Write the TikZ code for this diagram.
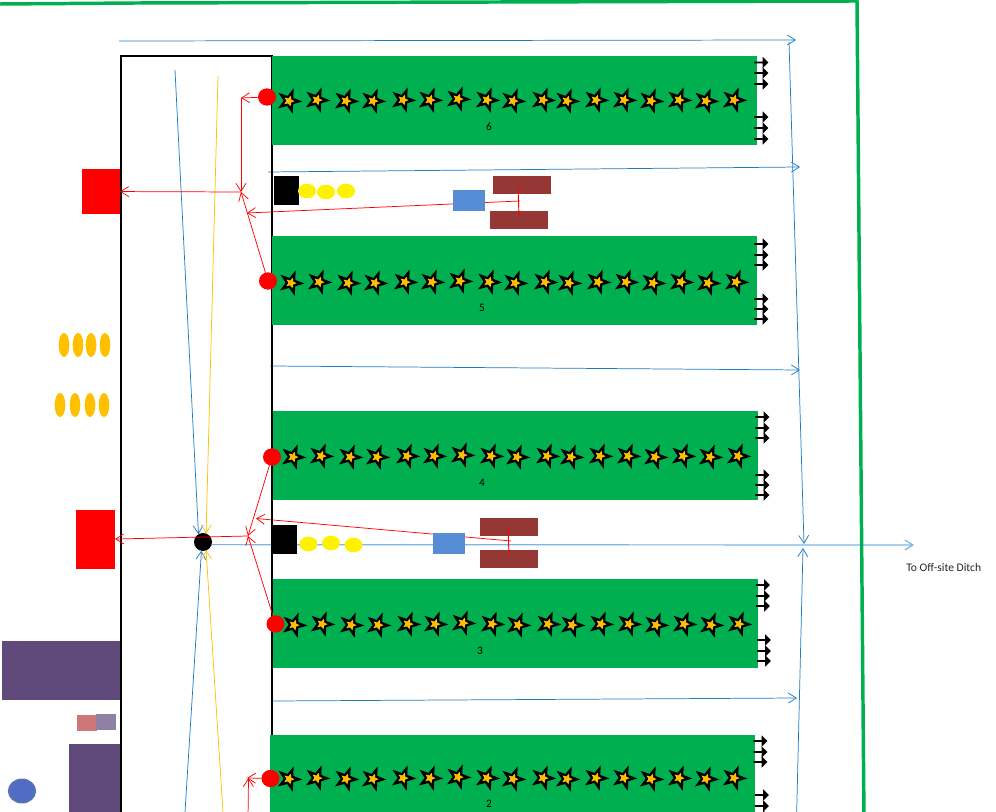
\documentclass[tikz,border=0pt]{standalone}
\usepackage{fontspec}
\setmainfont{Carlito}
\usepackage{xcolor}
\usetikzlibrary{positioning,arrows.meta,shapes.geometric,shapes.arrows,backgrounds}
\definecolor{bedgreen}{HTML}{00B050}
\definecolor{pipeblue}{HTML}{1E7CC4}
\definecolor{ditchblue}{HTML}{7DB5E2}
\definecolor{sunorange}{HTML}{FFC000}
\definecolor{drumbrown}{HTML}{953735}
\definecolor{pumpblue}{HTML}{558ED5}
\definecolor{bldgpurple}{HTML}{604A7B}
\begin{document}
\begin{tikzpicture}[x=0.75pt,y=-0.75pt,
  solid/.style={rectangle,inner sep=0pt,outer sep=0pt},
  bed/.style={solid,fill=bedgreen,minimum width=363.75pt,minimum height=66.75pt},
  drum/.style={solid,fill=drumbrown,minimum width=43.5pt,minimum height=13.5pt},
  pump/.style={solid,fill=pumpblue,minimum width=24pt,minimum height=15.75pt},
  tank/.style={solid,fill=black,minimum width=18.75pt,minimum height=21.75pt},
  bldg/.style={solid,fill=bldgpurple},
  redbox/.style={solid,fill=red},
  valve/.style={ellipse,inner sep=0pt,outer sep=0pt,fill=red,minimum width=13.5pt,minimum height=13pt},
  drop/.style={ellipse,inner sep=0pt,outer sep=0pt,fill=yellow,minimum width=13.5pt,minimum height=11pt},
  seed/.style={ellipse,inner sep=0pt,outer sep=0pt,fill=sunorange,minimum width=8pt,minimum height=18pt},
  starout/.style={star,star points=5,star point ratio=2.5,rotate=-20,inner sep=0pt,outer sep=0pt,fill=black,minimum size=20pt},
  starin/.style={star,star points=5,star point ratio=2.2,rotate=-20,inner sep=0pt,outer sep=0pt,fill=sunorange,minimum size=8.5pt},
  outlet/.style={single arrow,inner sep=0pt,outer sep=0pt,fill=black,minimum height=10.5pt,minimum width=8.5pt,single arrow head extend=1.2pt},
  bluepipe/.style={draw=pipeblue,line width=0.55pt,-{Straight Barb[length=6pt,width=7.5pt]}},
  orangepipe/.style={draw=sunorange,line width=0.55pt,-{Straight Barb[length=6pt,width=7.5pt]}},
  redpipe/.style={draw=red,line width=0.55pt,-{Straight Barb[length=6pt,width=7.5pt]}},
  redline/.style={draw=red,line width=0.7pt},
  fence/.style={draw=bedgreen,line width=2.6pt},
  wall/.style={draw=black,line width=1.8pt}]
\clip (0,0) rectangle (996,812);
\foreach \n/\x/\y in {fa/0/4,fb/137/3,fc/857/1,fd/864/820,wa/121/820,wb/121/56,wc/272/56,wd/272/740,
  ba/119/41,bb/796/40,bc/268/172,bd/800/167,be/270/366,bf/800/370,bg/273/701,bh/797/698,
  bi/789/42,bj/804/544,bk/796.5/820,bl/803/548,bm/175/70,bn/218/76,bo/184.5/820,bp/223.5/820,bq/914/545,
  ra/241/98,rb/241/192,rc/248/536,rd/520/201,re/247/213,rf/518/187,rg/519/216,
  rh/511/541,ri/256/518.5,rj/508/527,rk/509/555,rl/247/778,rm/248.5/778,rn/248/820} {
    \coordinate (\n) at (\x,\y);
}
\draw[fence] (fa) -- (fb);
\draw[fence] (fb) -- (fc) -- (fd);
\draw[wall] (wa) -- (wb) -- (wc) -- (wd);
\foreach \r/\x/\y in {6/514.5/100.5,5/514.5/280.5,4/515/455.5,3/515.5/623.5,2/512.5/779.5} {
    \node[bed] (bed\r) at (\x,\y) {};
}
\node (lbl6) at (489,127) [font=\fontsize{8.5pt}{10pt}\selectfont] {6};
\node (lbl5) at (482,308) [font=\fontsize{8.5pt}{10pt}\selectfont] {5};
\node (lbl4) at (482,483) [font=\fontsize{8.5pt}{10pt}\selectfont] {4};
\node (lbl3) at (480,651) [font=\fontsize{8.5pt}{10pt}\selectfont] {3};
\node (lbl2) at (489,804) [font=\fontsize{8.5pt}{10pt}\selectfont] {2};
\foreach \n/\x/\y in {6a/267/97,5a/268/281,4a/272/457,3a/275.5/624,2a/270.5/778.5} {
    \node[valve] (valve\n) at (\x,\y) {};
}
\foreach \r/\dx/\y in {6/0/101,5/2/283,4/4/457,3/5/625,2/0/779} {
    \foreach \sx/\sy [count=\n] in {289/0,317/-1,346/0,373/0,403/-1,430/-1,458/-2,487/-1,513/0,543/-1,567/0,596/-1,624/-1,651/0,679/-1,706/0,734/-1} {
        \node[starout] (star\r-\n) at ({\sx+\dx},{\y+\sy}) {};
        \node[starin] (core\r-\n) at (star\r-\n) {};
    }
}
\foreach \n/\x/\y in {a/761/62.5,b/761/73,c/761/84,d/761/117,e/761/128,f/761/139,
  g/761/244,h/761/255,i/761/265,j/761/299,k/761/309,l/761/319,
  m/762/417,n/762/428,o/762/438,p/762/475,q/762/485,r/762/495,
  s/762.5/585,t/762.5/596,u/762.5/606,v/763.5/640,w/763.5/651,x/763.5/661,
  y/760/741,z/760/752,aa/760/762,ab/761.5/795,ac/761.5/806,ad/761.5/816} {
    \node[outlet] (out\n) at (\x,\y) {};
}
\node[redbox,minimum width=28.5pt,minimum height=33.75pt] (redbox1) at (101,191.5) {};
\node[redbox,minimum width=29.25pt,minimum height=44.25pt] (redbox2) at (95.5,539.5) {};
\node[tank] (tank1) at (286.5,190.5) {};
\node[tank] (tank2) at (284.5,540) {};
\foreach \n/\x/\y in {a/307/191,b/326/192,c/346/191,d/308.5/544,e/331/543,f/353.5/545} {
    \node[drop] (drop\n) at (\x,\y) {};
}
\node[pump] (pump1) at (469,200.5) {};
\node[pump] (pump2) at (449,543.5) {};
\node[drum] (drum1) at (522,185) {};
\node[drum] (drum2) at (519,220) {};
\node[drum] (drum3) at (509,527) {};
\node[drum] (drum4) at (509,559) {};
\foreach \n/\x/\y in {a/64/345,b/78/345,c/91/345,d/105/345,e/60/405,f/75/405,g/90/405,h/104/405} {
    \node[seed] (seed\n) at (\x,\y) {};
}
\node[bldg,minimum width=88.5pt,minimum height=44.25pt] (bldg1) at (61,670.5) {};
\node[bldg,minimum width=38.25pt,minimum height=60pt] (bldg2) at (94.5,784) {};
\node[solid,fill=pink!60!red!60!gray,minimum width=15pt,minimum height=12pt] (shedpink) at (87,723) {};
\node[solid,fill=bldgpurple!70!white,minimum width=15pt,minimum height=12pt] (shedpurple) at (106,722) {};
\node[ellipse,inner sep=0pt,outer sep=0pt,draw=bldgpurple!40!pumpblue,line width=1.2pt,fill=pumpblue!70!blue!70!gray,minimum width=20pt,minimum height=17.5pt] (well) at (22,791) {};
\node[circle,inner sep=0pt,outer sep=0pt,fill=black,minimum size=13.5pt] (sump) at (203,542) {};
\node (ditchlbl) at (906,568) [anchor=west,inner sep=0pt,font=\fontsize{8.7pt}{10pt}\selectfont,black!85] {To Off-site Ditch};
\begin{scope}[on background layer]
\draw[bluepipe] (ba) -- (bb);
\draw[bluepipe] (bc) -- (bd);
\draw[bluepipe] (be) -- (bf);
\draw[bluepipe] (bg) -- (bh);
\draw[bluepipe] (bi) -- (bj);
\draw[bluepipe] (bk) -- (bl);
\draw[bluepipe] (bm) -- (sump.120);
\draw[bluepipe] (bo) -- (sump.-100);
\draw[orangepipe] (bn) -- (sump.70);
\draw[orangepipe] (bp) -- (sump.-70);
\draw[bluepipe,draw=ditchblue,line width=0.9pt] (sump.-17) -- (bq);
\draw[redpipe] (rd) -- (re);
\draw[redpipe] (rh) -- (ri);
\end{scope}
\draw[redpipe] (valve6a) -- (ra);
\draw[redpipe] (ra) -- (rb);
\draw[redpipe] (valve5a) -- (rb);
\draw[redpipe] (rb) -- (redbox1);
\draw[redpipe] (valve4a) -- (rc);
\draw[redpipe] (valve3a) -- (rc);
\draw[redpipe] (rc) -- (redbox2);
\draw[redpipe] (valve2a) -- (rl);
\draw[redpipe] (rn) -- (rm);
\draw[redline] (rf) -- (rg);
\draw[redline] (rj) -- (rk);
\end{tikzpicture}
\end{document}
